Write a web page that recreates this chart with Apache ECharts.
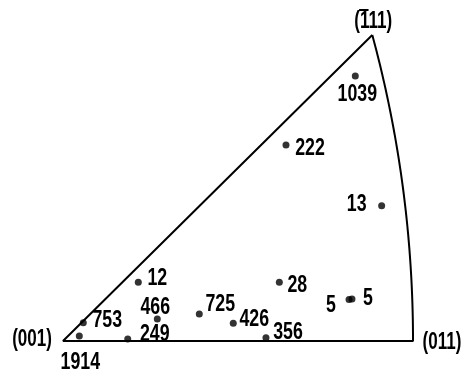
<!DOCTYPE html>
<html>
<head>
<meta charset="utf-8">
<script src="https://cdn.jsdelivr.net/npm/echarts@6/dist/echarts.min.js"></script>
<style>html,body{margin:0;padding:0;background:#fff;}#c{width:466px;height:373px;}</style>
</head>
<body>
<div id="c"></div>
<script>
// Stereographic triangle corners (stereographic units)
const cornerNames = ['(001)', '(011)', '(111)'];
const cornerBarred = [false, false, true]; // first index carries an overbar: (1̄11)
const cornerX = [0, 0.4142, 0.3660];
const cornerY = [0, 0, 0.3660];

// Pole counts
const pointLabels = ['1914', '753', '249', '466', '12', '725', '426', '356', '28', '5', '5', '1039', '222', '13'];
const pointX = [0.0193, 0.0240, 0.0766, 0.1116, 0.0891, 0.1613, 0.2015, 0.2402, 0.2560, 0.3385, 0.3420, 0.3459, 0.2639, 0.3771];
const pointY = [0.0060, 0.0219, 0.0024, 0.0263, 0.0702, 0.0323, 0.0212, 0.0039, 0.0702, 0.0496, 0.0502, 0.3170, 0.2344, 0.1618];

// label placement (style only, pixel offsets from the mark)
const labelOffsets = [[1, 26], [24, -2], [27, -5], [-2, -12], [19, -4], [21, -10], [21, -4], [22, -5], [18, 3], [-18, 6], [16, -1], [2, 18], [24, 3], [-25, -1]];
const cornerOffsets = [[-31, -1], [29, 2], [1, -13]];

const FONT_FAMILY = '"Liberation Sans", Arial, sans-serif';
const SCALE_X = 0.74;

// triangle boundary: two straight edges plus great circle arc (centre (-1,0), radius sqrt 2)
const boundary = [[cornerX[2], cornerY[2]], [cornerX[0], cornerY[0]], [cornerX[1], cornerY[1]]];
const steps = 40;
for (let i = 1; i <= steps; i++) {
  const y = cornerY[2] * i / steps;
  boundary.push([-1 + Math.sqrt(2 - y * y), y]);
}

function labelRenderer(texts, offsets, size, barred) {
  return function (params, api) {
    const i = api.value(2);
    const pt = api.coord([api.value(0), api.value(1)]);
    const cx = pt[0] + offsets[i][0];
    const cy = pt[1] + offsets[i][1];
    const children = [{
      type: 'text',
      x: cx,
      y: cy,
      scaleX: SCALE_X,
      style: {
        text: texts[i],
        fill: '#000',
        font: 'bold ' + size + 'px ' + FONT_FAMILY,
        align: 'center',
        verticalAlign: 'middle'
      }
    }];
    if (barred && barred[i]) {
      // overbar above the first digit (after the opening parenthesis)
      const w = (2 * 0.333 + 3 * 0.556) * size * SCALE_X;
      const x0 = cx - w / 2 + 0.333 * size * SCALE_X;
      const x1 = x0 + 0.556 * size * SCALE_X;
      children.push({
        type: 'line',
        shape: { x1: x0, y1: cy - 12, x2: x1, y2: cy - 12 },
        style: { stroke: '#000', lineWidth: 2 }
      });
    }
    return { type: 'group', children: children };
  };
}

const chart = echarts.init(document.getElementById('c'));
chart.setOption({
  animation: false,
  backgroundColor: '#fff',
  grid: { left: 63, right: 53, top: 35, bottom: 32 },
  xAxis: { type: 'value', min: 0, max: 0.4142, show: false },
  yAxis: { type: 'value', min: 0, max: 0.366, show: false },
  series: [
    {
      type: 'line',
      data: boundary,
      symbol: 'none',
      silent: true,
      lineStyle: { color: '#000', width: 2 }
    },
    {
      type: 'scatter',
      symbol: 'circle',
      symbolSize: 7,
      itemStyle: { color: '#000' },
      clip: false,
      data: pointLabels.map((n, i) => [pointX[i], pointY[i]])
    },
    {
      type: 'custom',
      clip: false,
      silent: true,
      renderItem: labelRenderer(pointLabels, labelOffsets, 24, null),
      data: pointLabels.map((n, i) => [pointX[i], pointY[i], i])
    },
    {
      type: 'custom',
      clip: false,
      silent: true,
      renderItem: labelRenderer(cornerNames, cornerOffsets, 23, cornerBarred),
      data: cornerNames.map((n, i) => [cornerX[i], cornerY[i], i])
    }
  ]
});
</script>
</body>
</html>
